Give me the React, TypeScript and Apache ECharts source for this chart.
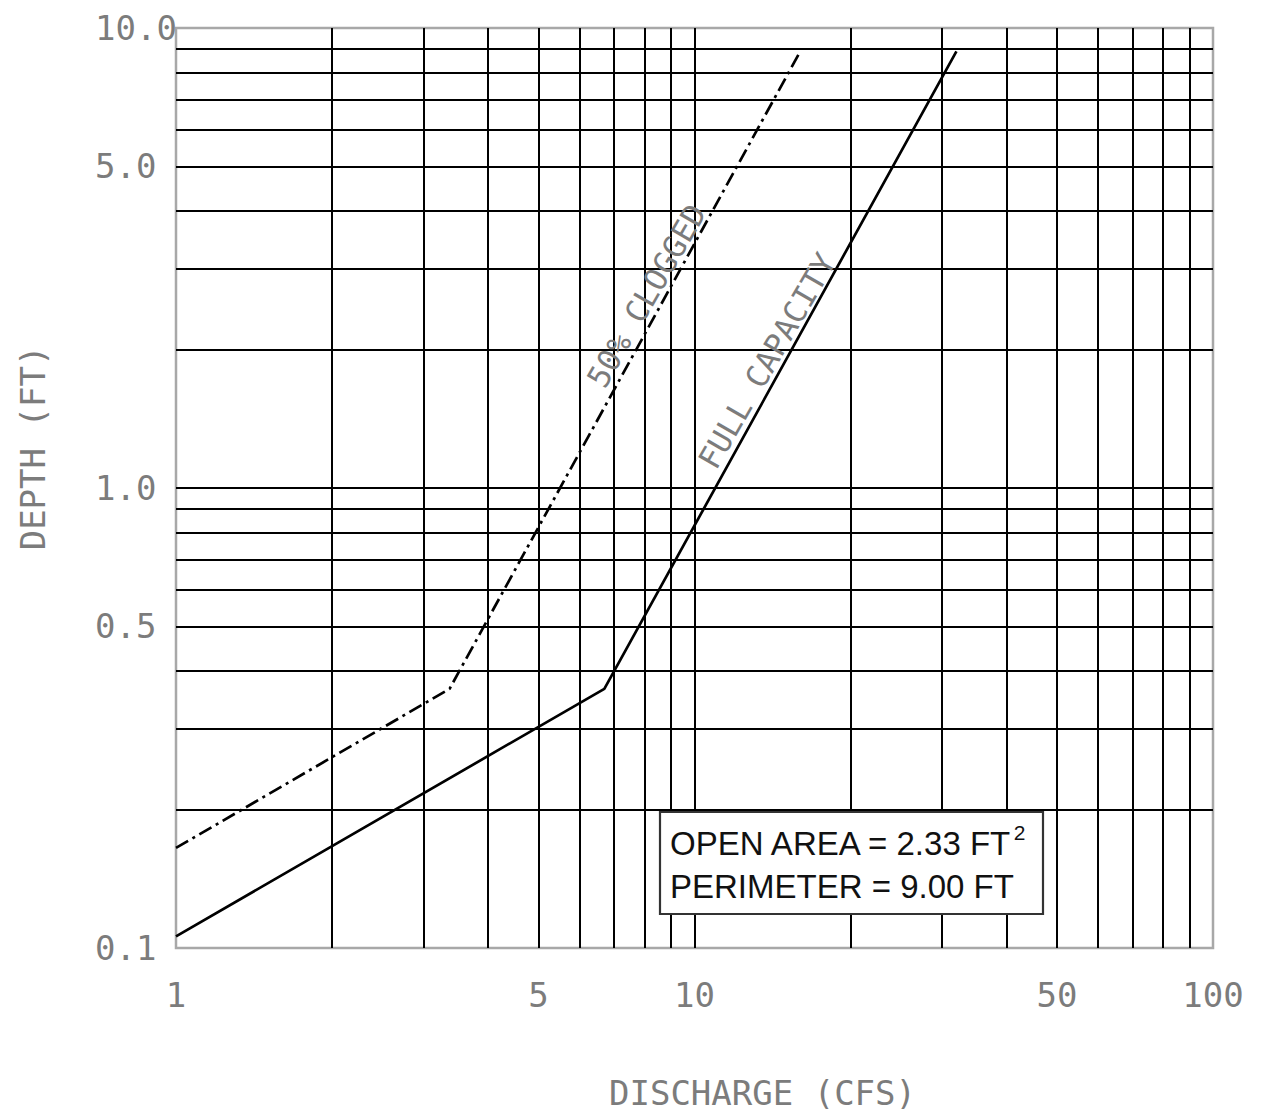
import React, { useEffect, useRef } from "react";
import * as echarts from "echarts";

// ---- data ----
const fullCapacityQ = [1, 6.7, 32];
const fullCapacityH = [0.106, 0.366, 8.9];
const cloggedQ = [1, 3.37, 16];
const cloggedH = [0.165, 0.366, 8.9];

const xGridValues = [2, 3, 4, 5, 6, 7, 8, 9, 10, 20, 30, 40, 50, 60, 70, 80, 90];
const yGridValues = [0.2, 0.3, 0.4, 0.5, 0.6, 0.7, 0.8, 0.9, 1, 2, 3, 4, 5, 6, 7, 8, 9];
const xTickLabels = [1, 5, 10, 50, 100];
const yTickLabels = [0.1, 0.5, 1, 5, 10];

const fullLabel = "FULL CAPACITY";
const cloggedLabel = "50% CLOGGED";
const fullLabelAt = [13.8, 1.89];
const cloggedLabelAt = [8.08, 2.62];

const infoLine1 = "OPEN AREA = 2.33 FT";
const infoSup = "2";
const infoLine2 = "PERIMETER = 9.00 FT";

const MONO = "'DejaVu Sans Mono', monospace";
const SANS = "'Liberation Sans', Arial, sans-serif";
const TEXT_GRAY = "#7c7c7c";

export default function App() {
  const ref = useRef<HTMLDivElement>(null);

  useEffect(() => {
    if (!ref.current) return;
    const chart = echarts.init(ref.current, undefined, { renderer: "svg" });

    const zip = (xs: number[], ys: number[]) => xs.map((x, i) => [x, ys[i]]);

    const option: any = {
      animation: false,
      backgroundColor: "#fff",
      grid: {
        left: 176,
        right: 59,
        top: 28,
        bottom: 164,
        containLabel: false,
        outerBoundsMode: "none",
        show: true,
        borderColor: "#a8a8a8",
        borderWidth: 2.5,
        backgroundColor: "transparent",
      },
      xAxis: {
        type: "log",
        logBase: 10,
        min: 1,
        max: 100,
        name: "DISCHARGE (CFS)",
        nameLocation: "middle",
        nameGap: 128,
        nameTextStyle: {
          fontFamily: MONO,
          fontSize: 34,
          color: TEXT_GRAY,
          padding: [0, 0, 0, 136],
        },
        axisLine: { show: false },
        axisTick: { show: false },
        splitLine: { show: false },
        axisLabel: {
          customValues: xTickLabels,
          fontFamily: MONO,
          fontSize: 34,
          color: TEXT_GRAY,
          margin: 30,
          formatter: (v: number) => String(Math.round(v)),
        },
      },
      yAxis: {
        type: "log",
        logBase: 10,
        min: 0.1,
        max: 10,
        name: "DEPTH (FT)",
        nameLocation: "middle",
        nameGap: 126,
        nameTextStyle: {
          fontFamily: MONO,
          fontSize: 34,
          color: TEXT_GRAY,
          padding: [0, 0, 0, 80],
        },
        axisLine: { show: false },
        axisTick: { show: false },
        splitLine: { show: false },
        axisLabel: {
          customValues: yTickLabels,
          fontFamily: MONO,
          fontSize: 34,
          color: TEXT_GRAY,
          align: "left",
          margin: 81,
          formatter: (v: number) => v.toFixed(1),
        },
      },
      series: [
        {
          name: "grid",
          type: "line",
          data: [],
          silent: true,
          z: 1,
          markLine: {
            silent: true,
            symbol: "none",
            animation: false,
            label: { show: false },
            lineStyle: { color: "#000", width: 2, type: "solid" },
            emphasis: { disabled: true },
            data: [
              ...xGridValues.map((v) => ({ xAxis: v })),
              ...yGridValues.map((v) => ({ yAxis: v })),
            ],
          },
        },
        {
          name: fullLabel,
          type: "line",
          data: zip(fullCapacityQ, fullCapacityH),
          showSymbol: false,
          symbol: "none",
          z: 5,
          lineStyle: { color: "#000", width: 2.7, type: "solid" },
          markPoint: {
            silent: true,
            symbol: "circle",
            symbolSize: 1,
            itemStyle: { color: "transparent" },
            label: {
              show: true,
              position: "inside",
              formatter: fullLabel,
              rotate: 60,
              fontFamily: MONO,
              fontSize: 31,
              color: TEXT_GRAY,
            },
            data: [{ coord: fullLabelAt }],
          },
        },
        {
          name: cloggedLabel,
          type: "line",
          data: zip(cloggedQ, cloggedH),
          showSymbol: false,
          symbol: "none",
          z: 5,
          lineStyle: { color: "#000", width: 2.7, type: [14, 5, 3, 5] },
          markPoint: {
            silent: true,
            symbol: "circle",
            symbolSize: 1,
            itemStyle: { color: "transparent" },
            label: {
              show: true,
              position: "inside",
              formatter: cloggedLabel,
              rotate: 60,
              fontFamily: MONO,
              fontSize: 31,
              color: TEXT_GRAY,
            },
            data: [{ coord: cloggedLabelAt }],
          },
        },
      ],
      graphic: [
        {
          type: "rect",
          z: 100,
          shape: { x: 660, y: 812, width: 383, height: 102 },
          style: { fill: "#fff", stroke: "#333", lineWidth: 2.2 },
        },
        {
          type: "text",
          z: 101,
          x: 670,
          y: 843,
          style: {
            text: `{a|${infoLine1}}{s|${infoSup}}`,
            rich: {
              a: { fontFamily: SANS, fontSize: 33, fill: "#111", lineHeight: 43 },
              s: { fontFamily: SANS, fontSize: 21, fill: "#111", verticalAlign: "top", lineHeight: 20 },
            },
            font: `33px ${SANS}`,
            fill: "#111",
            align: "left",
            textAlign: "left",
            verticalAlign: "middle",
            textVerticalAlign: "middle",
          },
        },
        {
          type: "text",
          z: 101,
          x: 670,
          y: 886,
          style: {
            text: infoLine2,
            font: `33px ${SANS}`,
            fill: "#111",
            align: "left",
            textAlign: "left",
            verticalAlign: "middle",
            textVerticalAlign: "middle",
          },
        },
      ],
    };

    chart.setOption(option);
    return () => chart.dispose();
  }, []);

  return (
    <div
      ref={ref}
      style={{ position: "absolute", left: 0, top: 0, width: 1272, height: 1112, background: "#fff" }}
    />
  );
}
